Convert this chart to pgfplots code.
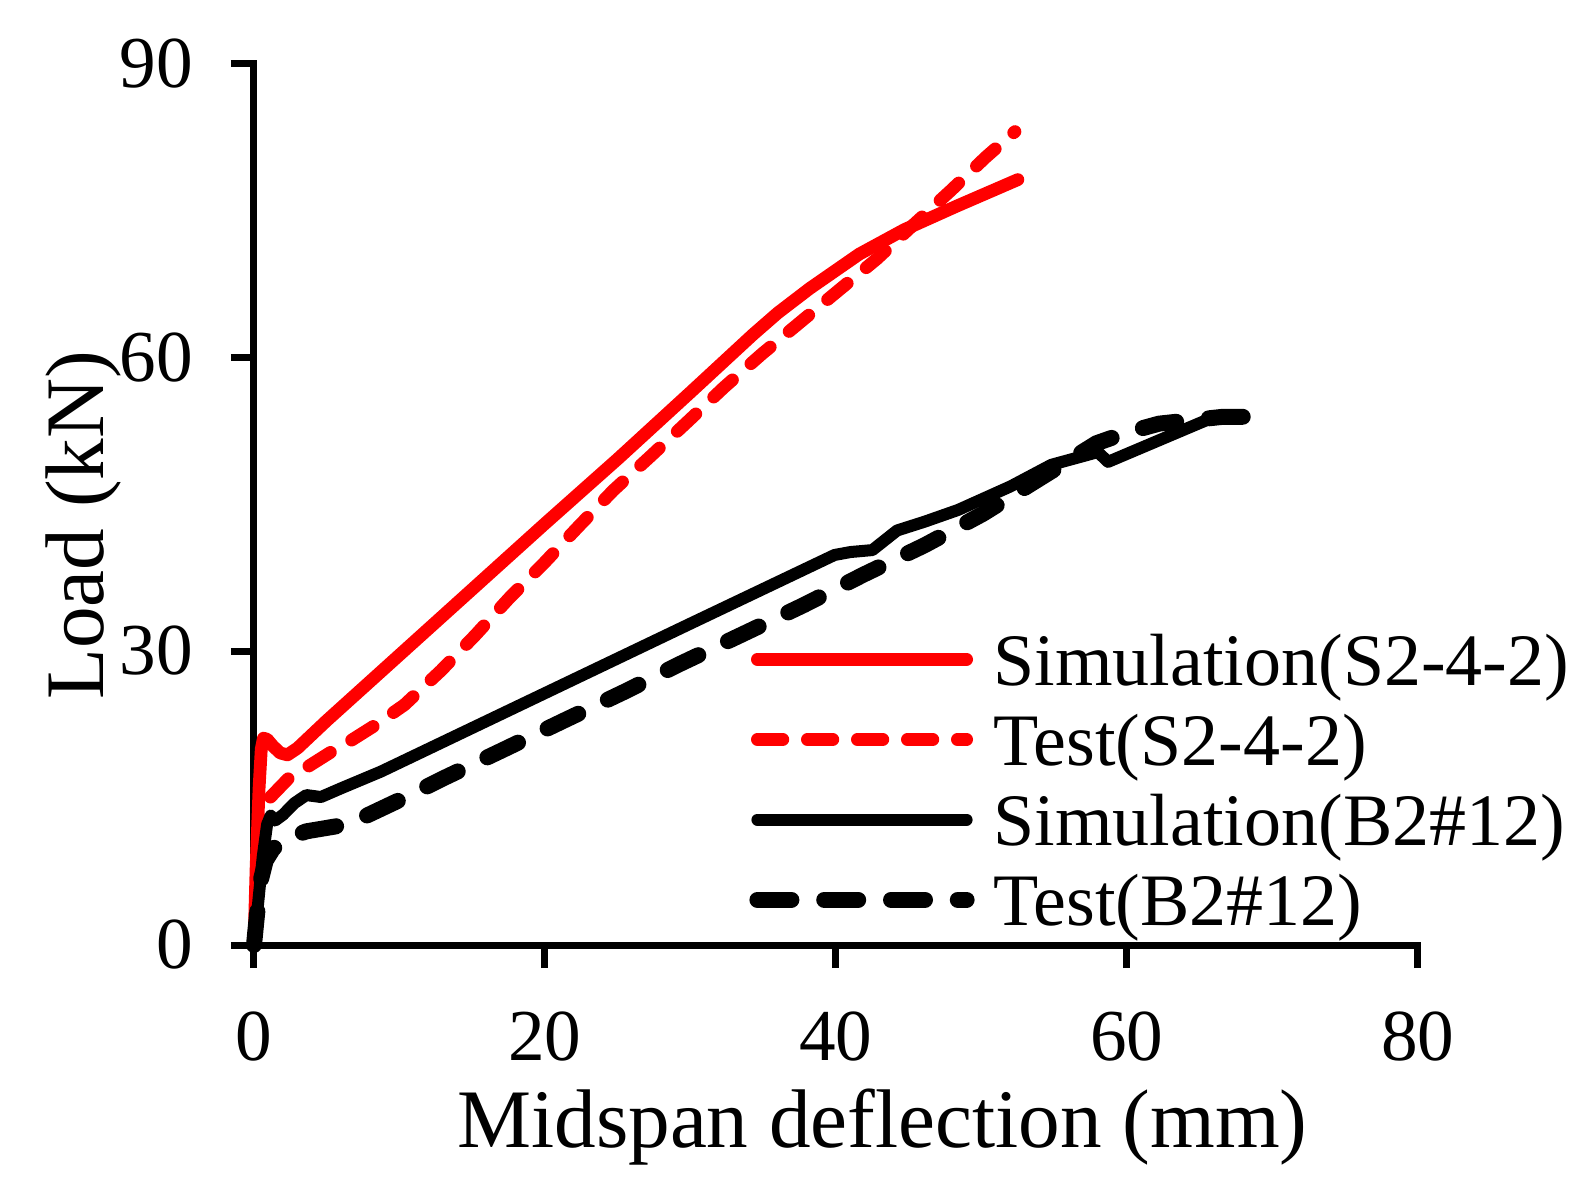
\documentclass[border=0pt]{standalone}
\usepackage{pgfplots}
\pgfplotsset{compat=1.18}
\usepackage{fontspec}
\setmainfont{Liberation Serif}

\pgfplotstableread{
x y
0 0
0.15 8
0.35 16
0.5 20
0.65 21.1
0.9 21.0
1.3 20.3
1.8 19.6
2.3 19.4
3.0 20.1
5 22.9
10 29.6
15 36.3
20 43.0
25 49.6
30 56.4
34.3 62.3
36 64.5
38.2 67.0
41.6 70.5
44.7 73.0
48.3 75.4
52.5 78.1
}\simS

\pgfplotstableread{
x y
0 0
0.2 6
0.45 11.5
0.94 14.8
2.5 17.2
3.7 18.2
5.3 19.7
6.7 20.9
8.3 22.4
10.33 24.5
12.85 28.0
15.2 31.6
17.54 35.4
19.95 39.0
22.3 42.7
24.7 46.4
27.2 49.8
29.8 53.4
32.3 56.9
34.9 60.3
37.5 63.5
40.1 66.7
42.8 70.0
45.4 73.6
47.9 77.0
50.3 80.4
52.3 83.0
}\testS

\pgfplotstableread{
x y
0 0
0.3 4.5
0.6 9
0.9 12.3
1.15 13.2
1.45 12.7
2.0 13.3
2.8 14.5
3.6 15.3
4.6 15.1
6 16.0
8.73 17.7
20 25.7
30 32.8
39.9 39.8
41 40.1
42.5 40.3
44.2 42.3
46.1 43.2
48.4 44.4
52 46.8
54.8 49.0
58 50.3
58.7 49.3
64.9 53.2
65.7 53.7
}\simB

\pgfplotstableread{
x y
0 0
0.2 3
0.45 6.5
0.8 8.6
1.3 9.8
2 10.7
3.6 11.6
5.6 12.1
7.6 13.1
10.3 15.0
13 17.0
17.1 19.9
21.3 22.9
25.4 25.8
29.3 28.7
33.7 31.8
37.8 34.7
41.9 37.8
46.1 40.8
50.1 44.0
54 47.6
57.9 51.2
60 52.3
62.2 53.2
66.6 53.9
68.1 53.9
}\testB

\begin{document}
\begin{tikzpicture}
\path[use as bounding box] (-63.5pt,-61.5pt) rectangle (335pt,236.25pt);
\begin{axis}[
  at={(0pt,0pt)}, anchor=south west,
  width=291pt, height=220.5pt, scale only axis,
  xmin=0, xmax=80, ymin=0, ymax=90,
  xtick={0,20,40,60,80}, ytick={0,30,60,90},
  axis x line*=bottom, axis y line*=left,
  axis line style={line width=1.75pt, line cap=rect, black},
  tick style={line width=1.75pt, black},
  major tick length=5.75pt,
  tick align=outside,
  /pgf/number format/assume math mode=true,
  ticklabel style={font=\fontsize{18.3pt}{22pt}\selectfont},
  yticklabel style={inner sep=0pt, anchor=east, xshift=-9.3pt},
  xticklabel style={inner sep=0pt, anchor=base, yshift=-23pt},
  xlabel={Midspan deflection (mm)},
  ylabel={Load (kN)},
  every axis x label/.style={at={(rel axis cs:0.54,0)}, anchor=base, yshift=-50.5pt, font=\fontsize{20.8pt}{24pt}\selectfont, inner sep=0pt},
  every axis y label/.style={at={(rel axis cs:0,0.476)}, xshift=-37.5pt, anchor=base, rotate=90, font=\fontsize{20.8pt}{24pt}\selectfont, inner sep=0pt},
  legend style={
    at={(axis cs:34.05,31.77)}, anchor=north west,
    draw=none, fill=none, inner sep=0pt, outer sep=0pt,
    row sep=5.7pt,
    font=\fontsize{18.5pt}{19.9pt}\selectfont,
    nodes={inner sep=0pt, outer sep=0pt},
    /tikz/every odd column/.append style={column sep=4.75pt},
  },
  legend cell align=left,
  legend image code/.code={\draw[#1] (0pt,0.75pt) -- (52.3pt,0.75pt);},
  clip=false,
]
\addplot[red, line width=3.2pt, line cap=round, line join=round] table[x=x,y=y] {\simS};
\addlegendentry{Simulation(S2-4-2)}
\addplot[red, line width=3.2pt, line cap=round, line join=round, dash pattern=on 6.35pt off 6.15pt] table[x=x,y=y] {\testS};
\addlegendentry{Test(S2-4-2)}
\addplot[black, line width=3pt, line cap=round, line join=round] table[x=x,y=y] {\simB};
\addlegendentry{Simulation(B2\#12)}
\addplot[black, line width=4pt, line cap=round, line join=round, dash pattern=on 8.5pt off 8.2pt] table[x=x,y=y] {\testB};
\addlegendentry{Test(B2\#12)}
\end{axis}
\end{tikzpicture}
\end{document}
